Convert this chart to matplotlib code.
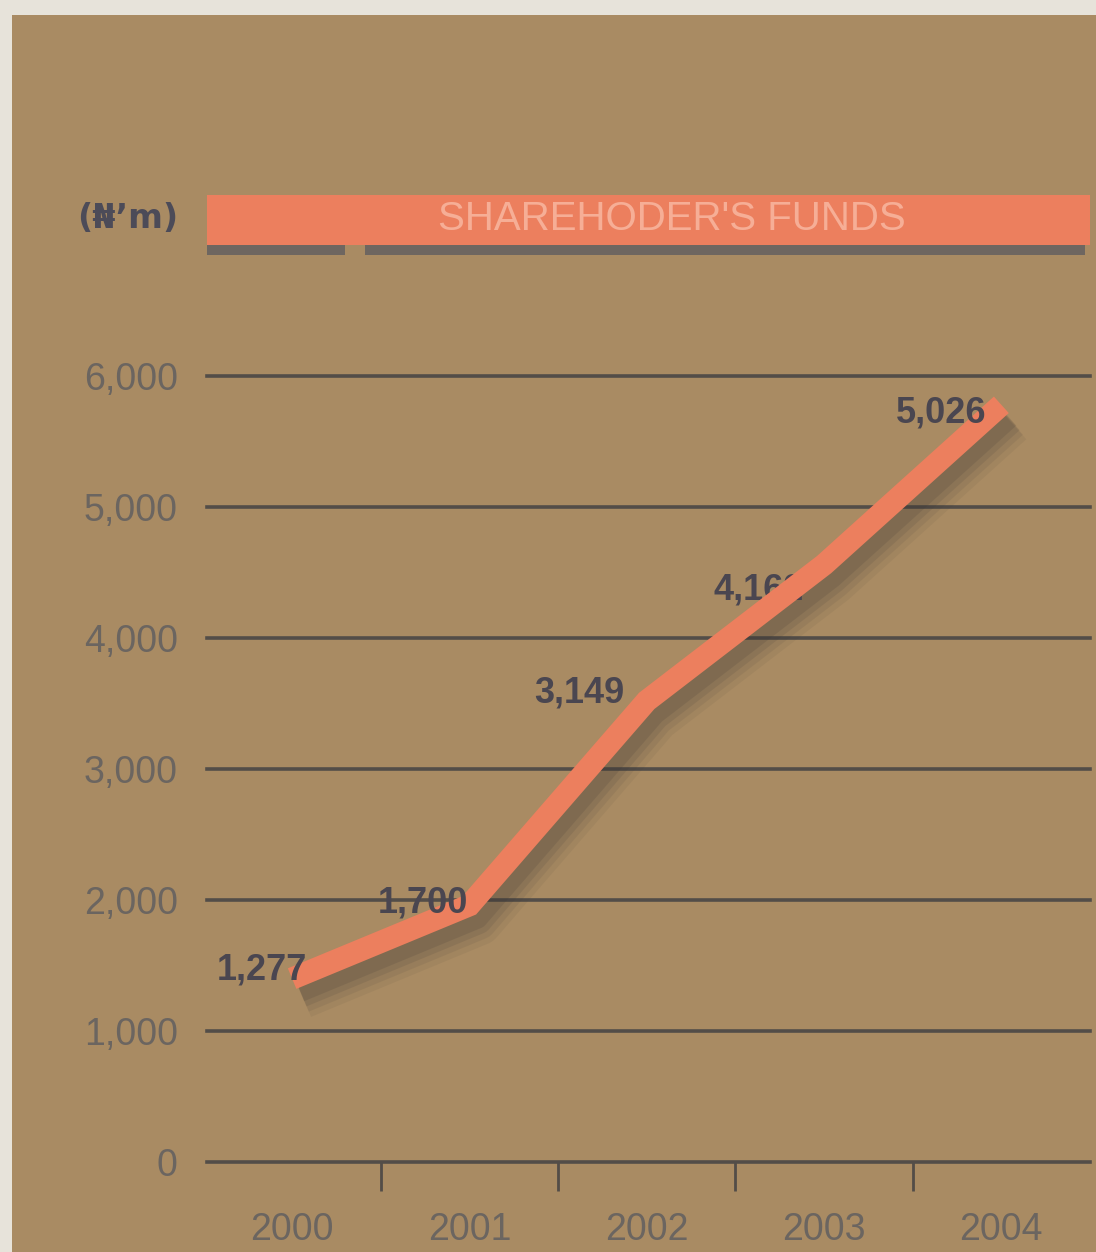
import numpy as np
import matplotlib.pyplot as plt
import matplotlib.patches as patches
import matplotlib.transforms as mtransforms

# data
years = ['2000', '2001', '2002', '2003', '2004']
funds = ['1,277', '1,700', '3,149', '4,162', '5,026']   # printed values
# heights of the drawn ribbon (the print is not to scale)
drawn = [1400, 1960, 3520, 4560, 5780]
y_ticks = [0, 1000, 2000, 3000, 4000, 5000, 6000]

BG = '#a98b63'
GRID = '#534d48'
SALMON = '#ec7f5e'
TXT = '#6b6560'
LBL = '#4a4650'

plt.rcParams['font.family'] = ['Liberation Sans', 'DejaVu Sans']

fig = plt.figure(figsize=(10.96, 12.52), dpi=100)
fig.patch.set_facecolor(BG)
# light paper edges of the scan
fig.patches.append(patches.Rectangle((0, 0), 12/1096, 1, transform=fig.transFigure,
                                     facecolor='#e7e3da', edgecolor='none', zorder=-1))
fig.patches.append(patches.Rectangle((0, 1 - 15/1252), 1, 15/1252, transform=fig.transFigure,
                                     facecolor='#e7e3da', edgecolor='none', zorder=-1))

ax = fig.add_axes([207/1096, 1 - 1162/1252, 883/1096, 786/1252])
ax.set_facecolor('none')
x = np.arange(len(years))
ax.set_xlim(-0.48, 4.5)
ax.set_ylim(0, 6000)
for s in ax.spines.values():
    s.set_visible(False)

# grid lines
for v in y_ticks:
    ax.axhline(v, color=GRID, lw=2.6, zorder=1, clip_on=False)

ax.set_yticks(y_ticks)
ax.set_yticklabels([f'{v:,}' for v in y_ticks], fontsize=27, color=TXT)
ax.tick_params(axis='y', length=0, pad=21)

ax.set_xticks([0.5, 1.5, 2.5, 3.5])
ax.set_xticklabels([])
ax.tick_params(axis='x', which='major', direction='out', length=21, width=2, color=GRID)
ax.set_xticks(x, minor=True)
ax.set_xticklabels(years, minor=True, fontsize=27, color=TXT)
ax.tick_params(axis='x', which='minor', length=0, pad=36)

# ribbon with soft shadow (stacked translucent strokes)
for dx, dy, a, w in [(11, -19, 0.07, 30), (10, -17, 0.09, 25), (9, -15, 0.12, 20),
                     (8, -13, 0.15, 15)]:
    off = mtransforms.ScaledTranslation(dx/100, dy/100, fig.dpi_scale_trans)
    ax.plot(x, drawn, color='#3c3634', lw=w, alpha=a, solid_capstyle='butt',
            solid_joinstyle='round', zorder=2, transform=ax.transData + off)
ax.plot(x, drawn, color=SALMON, lw=16, solid_capstyle='butt', solid_joinstyle='miter', zorder=3)

# value labels (only 4,162 sits under the ribbon)
offs = [(-0.17, 66), (-0.26, 17), (-0.38, 60), (-0.37, -190), (-0.34, -62)]
for i, (xi, yi, t, (ox, oy)) in enumerate(zip(x, drawn, funds, offs)):
    ax.text(xi + ox, yi + oy, t, fontsize=26, fontweight='bold', color=LBL,
            ha='center', va='center', zorder=2.5 if i == 3 else 4)

# title bar
fig.patches.append(patches.Rectangle((207/1096, 1 - 255/1252), 138/1096, 10/1252,
                                     transform=fig.transFigure, facecolor='#6e6660',
                                     edgecolor='none', zorder=1))
fig.patches.append(patches.Rectangle((365/1096, 1 - 255/1252), 720/1096, 10/1252,
                                     transform=fig.transFigure, facecolor='#6e6660',
                                     edgecolor='none', zorder=1))
fig.patches.append(patches.Rectangle((207/1096, 1 - 245/1252), 883/1096, 50/1252,
                                     transform=fig.transFigure, facecolor=SALMON,
                                     edgecolor='none', zorder=2))
fig.text(672/1096, 1 - 219/1252, "SHAREHODER'S FUNDS", fontsize=29, color='#f6ae96',
         ha='center', va='center', zorder=3)
fig.text(178/1096, 1 - 219/1252, '(\u20a6\u2019m)', fontsize=24, fontweight='bold',
         color='#4c4b58', ha='right', va='center', family=['DejaVu Sans'])

fig.savefig('out.png', dpi=100, facecolor=fig.get_facecolor())
